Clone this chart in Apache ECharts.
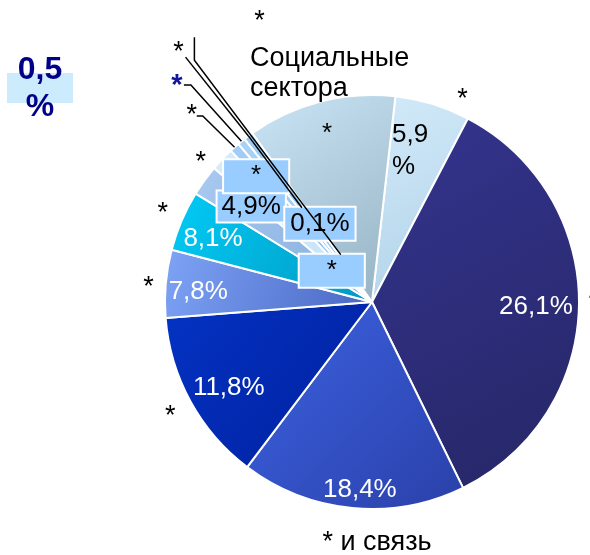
<!DOCTYPE html>
<html>
<head>
<meta charset="UTF-8">
<title></title>
<script type="text/javascript" src="https://cdn.jsdelivr.net/npm/echarts@6/dist/echarts.min.js"></script>
</head>
<body style="margin:0">
<div id="main" style="width:590px;height:555px;"></div>
<script type="text/javascript">
// slice sizes as drawn (arc share, printed labels differ)
var sliceValues = [21.1, 126.3, 63.2, 48.5, 19, 17, 8.7, 6.7, 2.8, 2.2, 2.7, 41.8];
var innerLabels = ['5,9\n%', '26,1%', '18,4%', '11,8%', '7,8%', '8,1%', '4,9%', '*', '', '*', '0,1%', '*'];
var outerLabels = ['*', '*', '* и связь', '*', '*', '*', '*', '*', '*', '*', '*', 'Социальные\nсектора'];
var sideNote = ['0,5', '%'];

var chart = echarts.init(document.getElementById('main'));
var CX = 372, CY = 302, R = 207, START = 6.5;
var FONT = '"Liberation Sans", Arial, sans-serif';

var colors = [
    ['#d2eaf9', '#b0d2e8'],
    ['#34348f', '#262666'],
    ['#3d63e4', '#2a40a8'],
    ['#0433c4', '#001f9c'],
    ['#7ea4f6', '#4866c2'],
    ['#02cbf6', '#0098c0'],
    ['#a9caf1', '#84acdb'],
    ['#d4ecfb', '#c4e2f6'],
    ['#a2cdf6', '#8fc0f0'],
    ['#aad2f6', '#96c6f2'],
    ['#9ccaf4', '#8cbeee'],
    ['#cae5f6', '#95b2c2']
];

// label placement: [radius, shift from slice middle (deg), align]
var innerPos = [
    [152, -9.5, 'left'], [164, 1, 'center'], [188, -1.8, 'center'], [167, -2.3, 'center'],
    [174, -1.8, 'center'], [171, -1.5, 'center'], [154, 2.4, 'center'], [171, 3.7, 'center'],
    null, [51, -13, 'center'], [94, 3, 'center'], [174, -0.6, 'center']
];
var outerPos = [
    [222, 7, 'center'], [222, -0.2, 'center'], [241, -6.7, 'center'], [232, -1, 'center'],
    [224, -1.3, 'center'], [227, -0.3, 'center'], [221, 3.3, 'center'], [302, 24.5, 'center'],
    [259, -2.5, 'center'], [291, -3, 'center'], [316, -1.1, 'center'], [258.6, -13.75, 'left']
];
// leader lines: [dx, dy from label, horizontal part]
var leaders = { 8: [5, 0, 6], 9: [7, -1, 7], 10: [7, 5, 0] };

var box = { backgroundColor: '#99ccff', borderColor: '#fff', borderWidth: 2 };
var innerStyle = [
    { lineHeight: 32 }, { color: '#fff' }, { color: '#fff' }, { color: '#fff' },
    { color: '#fff' }, { color: '#fff' }, Object.assign({ padding: [2, 4] }, box),
    Object.assign({ padding: [3, 27] }, box), {}, Object.assign({ padding: [3, 27] }, box),
    Object.assign({ padding: [3, 5] }, box), {}
];
var star = { fontSize: 27 };
var outerStyle = [star, star, {}, star, star, star, star, star, star,
    { color: '#14149c', fontWeight: 'bold', fontSize: 29 }, star, { lineHeight: 30 }];

var total = sliceValues.reduce(function (a, b) { return a + b; }, 0);
var mids = [], acc = 0;
sliceValues.forEach(function (v) {
    mids.push(START + (acc + v / 2) / total * 360);
    acc += v;
});
function polar(r, deg) {
    var a = deg * Math.PI / 180;
    return [CX + r * Math.sin(a), CY - r * Math.cos(a)];
}
function labelAt(pos, i) {
    return polar(pos[i][0], mids[i] + pos[i][1]);
}

// lines running from the inner boxes out through the small slices
var box10 = labelAt(innerPos, 10), box9 = labelAt(innerPos, 9);
var turn9 = polar(300, mids[9] + 2.8);
var crossLines = [
    [polar(R, mids[10]), [box10[0] - 18, box10[1] - 16]],
    [[box9[0] + 9, box9[1] - 16], turn9, [turn9[0], turn9[1] - 23]]
];

var base = {
    type: 'pie',
    center: [CX, CY],
    radius: [0, R],
    startAngle: 90 - START,
    clockwise: true,
    avoidLabelOverlap: false,
    silent: true,
    emphasis: { disabled: true }
};

var option = {
    animation: false,
    graphic: [
        { type: 'rect', shape: { x: 7, y: 73, width: 66, height: 30 }, style: { fill: '#ccecfd' } },
        { type: 'text', x: 40, y: 89, style: { text: sideNote.join('\n'), font: 'bold 32px "Liberation Sans", Arial', fill: '#000088', align: 'center', verticalAlign: 'middle', lineHeight: 37 } }
    ].concat(crossLines.map(function (pts) {
        return { type: 'polyline', z: 10, shape: { points: pts }, style: { stroke: '#000', lineWidth: 1.5, fill: null } };
    })),
    series: [
        Object.assign({}, base, {
            label: { show: false },
            labelLine: { show: false },
            itemStyle: { borderColor: '#fff', borderWidth: 2 },
            data: sliceValues.map(function (v, i) {
                return {
                    value: v,
                    itemStyle: {
                        color: new echarts.graphic.LinearGradient(0, 0, 1, 1, [
                            { offset: 0, color: colors[i][0] },
                            { offset: 1, color: colors[i][1] }
                        ])
                    }
                };
            })
        }),
        Object.assign({}, base, {
            z: 3,
            itemStyle: { color: 'rgba(0,0,0,0)' },
            label: { show: true, position: 'inside', fontFamily: FONT, fontSize: 26, color: '#000' },
            labelLine: { show: false },
            data: sliceValues.map(function (v, i) {
                return {
                    value: v,
                    label: Object.assign({ show: innerLabels[i] !== '', formatter: innerLabels[i] || ' ' }, innerStyle[i])
                };
            }),
            labelLayout: function (p) {
                var c = innerPos[p.dataIndex];
                if (!c) return;
                var pt = labelAt(innerPos, p.dataIndex);
                return { x: pt[0], y: pt[1], align: c[2], verticalAlign: 'middle' };
            }
        }),
        Object.assign({}, base, {
            z: 3,
            itemStyle: { color: 'rgba(0,0,0,0)' },
            label: { show: true, position: 'outside', fontFamily: FONT, fontSize: 27, color: '#000' },
            labelLine: { show: false, lineStyle: { color: '#000', width: 1.5 } },
            data: sliceValues.map(function (v, i) {
                return {
                    value: v,
                    label: Object.assign({ formatter: outerLabels[i] }, outerStyle[i]),
                    labelLine: { show: !!leaders[i], length: 20, length2: 10 }
                };
            }),
            labelLayout: function (p) {
                var i = p.dataIndex, c = outerPos[i];
                var pt = labelAt(outerPos, i);
                var out = { x: pt[0], y: pt[1], align: c[2], verticalAlign: 'middle' };
                var l = leaders[i];
                if (l) {
                    var end = [pt[0] + l[0], pt[1] + l[1]];
                    var elbow = [end[0] + l[2], end[1]];
                    out.labelLinePoints = [polar(R, mids[i]), elbow, end];
                }
                return out;
            }
        })
    ]
};
chart.setOption(option);
</script>
</body>
</html>
